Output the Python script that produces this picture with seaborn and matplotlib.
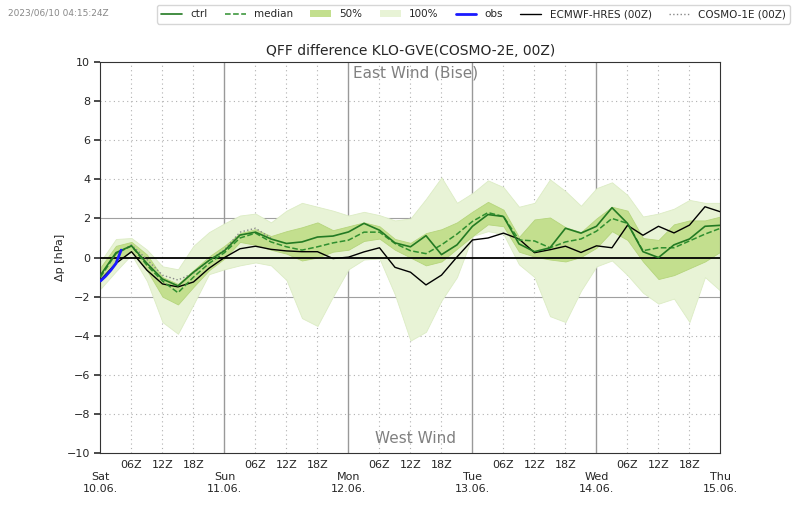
import matplotlib
matplotlib.use("Agg")
import matplotlib.pyplot as plt
import numpy as np
import pandas as pd
import seaborn as sns
from matplotlib.lines import Line2D
from matplotlib.patches import Patch

# forecast hours since Sat 10.06. 00Z, 3-hourly
hours = list(range(0, 121, 3))

ctrl = [-0.9, 0.25, 0.6, -0.3, -1.1, -1.45, -0.75, -0.15, 0.35, 1.15, 1.3, 0.95, 0.72, 0.8,
        1.05, 1.1, 1.31, 1.75, 1.4, 0.75, 0.55, 1.12, 0.15, 0.65, 1.6, 2.2, 2.1, 0.7,
        0.3, 0.5, 1.5, 1.25, 1.6, 2.55, 1.75, 0.3, 0.0, 0.65, 0.95, 1.6, 1.65]
median = [-1.0, 0.2, 0.6, -0.4, -1.2, -1.8, -1.0, -0.3, 0.25, 1.0, 1.25, 0.8, 0.55, 0.38,
          0.55, 0.75, 0.89, 1.3, 1.3, 0.72, 0.35, 0.2, 0.65, 1.2, 1.85, 2.3, 2.1, 0.9,
          0.85, 0.5, 0.8, 0.95, 1.35, 2.0, 1.75, 0.35, 0.5, 0.5, 0.85, 1.2, 1.5]
p75 = [-0.5, 0.6, 0.8, 0.15, -1.0, -1.35, -0.65, 0.05, 0.6, 1.25, 1.45, 1.1, 1.35, 1.55,
       1.8, 1.4, 1.6, 1.8, 1.6, 0.95, 0.75, 1.25, 1.45, 1.8, 2.35, 2.85, 2.45, 1.05,
       1.95, 2.05, 1.55, 1.3, 2.0, 2.6, 2.4, 1.0, 0.9, 1.7, 1.9, 1.9, 2.1]
p25 = [-1.2, -0.15, 0.3, -0.65, -2.0, -2.4, -1.5, -0.65, -0.05, 0.8, 0.65, 0.4, 0.2, -0.15,
       0.0, 0.3, 0.4, 0.85, 0.97, 0.4, 0.0, -0.4, -0.2, 0.45, 1.1, 1.7, 1.6, 0.3,
       0.05, -0.1, -0.2, 0.03, 0.5, 1.35, 0.9, -0.2, -1.1, -0.9, -0.55, -0.2, 0.3]
ens_max = [-0.2, 0.95, 1.0, 0.4, -0.45, -0.6, 0.6, 1.3, 1.75, 2.15, 2.25, 1.8, 2.4, 2.8,
           2.6, 2.4, 2.15, 2.34, 2.17, 1.9, 2.0, 3.0, 4.1, 2.8, 3.3, 3.95, 3.6, 2.6,
           2.8, 4.0, 3.4, 2.65, 3.55, 3.85, 3.2, 2.1, 2.25, 2.5, 2.95, 2.8, 2.8]
ens_min = [-1.6, -0.7, 0.15, -1.2, -3.3, -3.9, -2.4, -0.85, -0.6, -0.4, -0.25, -0.4, -1.15, -3.1,
           -3.5, -2.0, -0.6, -0.1, -0.05, -1.9, -4.25, -3.8, -2.2, -1.0, 1.1, 1.35, 1.2, -0.35,
           -1.0, -3.0, -3.3, -1.7, -0.45, -0.15, -0.9, -1.8, -2.36, -2.1, -3.3, -1.0, -1.7]
hres = [-1.15, -0.3, 0.3, -0.65, -1.35, -1.5, -1.25, -0.55, 0.0, 0.45, 0.58, 0.42, 0.34, 0.3,
        0.3, -0.05, 0.02, 0.29, 0.5, -0.5, -0.75, -1.4, -0.9, 0.03, 0.9, 1.0, 1.25, 0.95,
        0.25, 0.4, 0.58, 0.26, 0.6, 0.5, 1.65, 1.14, 1.6, 1.26, 1.66, 2.6, 2.34]

# COSMO-1E (00Z) only reaches +33h
c1e_hours = list(range(0, 34, 3))
cosmo1e = [-0.95, 0.2, 0.65, -0.1, -0.9, -1.15, -0.8, -0.15, 0.4, 1.3, 1.5, 1.0]

# observations
obs_hours = [0, 1, 2, 3, 4]
obs = [-1.2, -0.95, -0.65, -0.3, 0.38]

day_hours = [0, 24, 48, 72, 96, 120]
day_labels = ["Sat\n10.06.", "Sun\n11.06.", "Mon\n12.06.", "Tue\n13.06.", "Wed\n14.06.", "Thu\n15.06."]
minor_hours = [h for h in range(6, 120, 6) if h % 24 != 0]
minor_labels = ["%02dZ" % (h % 24) for h in minor_hours]

ens = pd.DataFrame({"hour": hours, "ctrl": ctrl, "median": median,
                    "p25": p25, "p75": p75, "min": ens_min, "max": ens_max, "hres": hres})

sns.set_theme(style="white")
plt.rcParams["font.family"] = ["DejaVu Sans"]

c_ctrl = "#237a23"
c_med = "#2f8f2f"
c_50 = "#c3df8e"
c_100 = "#e8f3d6"

fig = plt.figure(figsize=(8, 5.09), dpi=100)
ax = fig.add_axes([0.1256, 0.110, 0.775, 0.768])

# grid
for y in [-8, -6, -4, 4, 6, 8]:
    ax.axhline(y, color="#b0b0b0", lw=0.8, ls=(0, (1, 3)), zorder=0)
for y in [-2, 2]:
    ax.axhline(y, color="#a0a0a0", lw=0.8, zorder=0)
for h in minor_hours:
    ax.axvline(h, color="#b0b0b0", lw=0.8, ls=(0, (1, 3)), zorder=0)
for h in day_hours[1:-1]:
    ax.axvline(h, color="#999999", lw=1.0, zorder=0)

ax.fill_between(ens["hour"], ens["min"], ens["max"], color=c_100, lw=0.6, edgecolor="#dcecc4", zorder=1)
ax.fill_between(ens["hour"], ens["p25"], ens["p75"], color=c_50, lw=0.6, edgecolor="#b5d57c", zorder=2)
ax.axhline(0, color="black", lw=1.3, zorder=3)

sns.lineplot(data=ens, x="hour", y="hres", ax=ax, color="black", lw=1.0, zorder=4, legend=False)
sns.lineplot(x=c1e_hours, y=cosmo1e, ax=ax, color="#888888", lw=1.0, ls=":", zorder=4, legend=False)
sns.lineplot(data=ens, x="hour", y="median", ax=ax, color=c_med, lw=1.1, ls="--", zorder=5, legend=False)
sns.lineplot(data=ens, x="hour", y="ctrl", ax=ax, color=c_ctrl, lw=1.2, zorder=5, legend=False)
sns.lineplot(x=obs_hours, y=obs, ax=ax, color="#1a1aff", lw=2.0, zorder=6, legend=False)

ax.set_xlim(0, 120)
ax.set_ylim(-10, 10)
ax.set_yticks(range(-10, 11, 2))
ax.set_xticks(day_hours)
ax.set_xticklabels(day_labels)
ax.set_xticks(minor_hours, minor=True)
ax.set_xticklabels(minor_labels, minor=True)
ax.tick_params(axis="x", which="major", length=4, pad=10, labelsize=8, color="#333333")
ax.tick_params(axis="x", which="minor", length=3, pad=2, labelsize=8, color="#333333")
ax.tick_params(axis="y", length=4, labelsize=8, color="#333333", left=True)
ax.set_xlabel("")
ax.set_ylabel("Δp [hPa]", fontsize=8, labelpad=1)
for s in ax.spines.values():
    s.set_color("#333333")
    s.set_linewidth(0.8)

ax.set_title("QFF difference KLO-GVE(COSMO-2E, 00Z)", fontsize=10, pad=5)
ax.text(0.508, 0.972, "East Wind (Bise)", transform=ax.transAxes, ha="center", va="center",
        fontsize=11, color="#808080")
ax.text(0.508, 0.038, "West Wind", transform=ax.transAxes, ha="center", va="center",
        fontsize=11, color="#808080")
fig.text(0.01, 0.975, "2023/06/10 04:15:24Z", fontsize=6.5, color="#888888", va="center")

handles = [
    Line2D([], [], color=c_ctrl, lw=1.2),
    Line2D([], [], color=c_med, lw=1.1, ls="--"),
    Patch(facecolor=c_50, edgecolor="none"),
    Patch(facecolor=c_100, edgecolor="none"),
    Line2D([], [], color="#1a1aff", lw=2.0),
    Line2D([], [], color="black", lw=1.0),
    Line2D([], [], color="#888888", lw=1.0, ls=":"),
]
labels = ["ctrl", "median", "50%", "100%", "obs", "ECMWF-HRES (00Z)", "COSMO-1E (00Z)"]
fig.legend(handles, labels, loc="upper right", bbox_to_anchor=(0.994, 1.0), ncol=7, fontsize=7.5,
           frameon=True, handlelength=2.0, columnspacing=1.65, handletextpad=0.8, borderpad=0.4,
           edgecolor="#cccccc", fancybox=True)

fig.savefig("out.png", dpi=100)
